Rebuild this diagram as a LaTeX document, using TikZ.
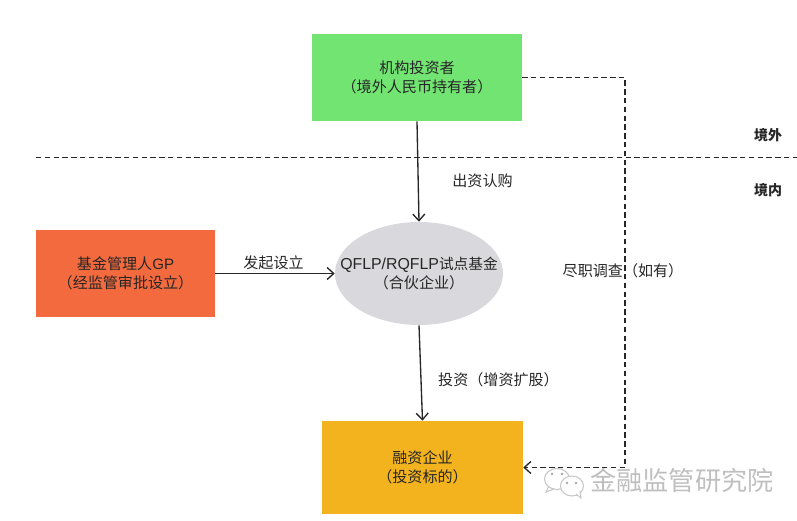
\documentclass[tikz,border=0pt]{standalone}
\usepackage{fontspec}
\setmainfont{Noto Sans CJK SC}
\newfontfamily\latinfont{Liberation Sans}
\usetikzlibrary{shapes.geometric, arrows.meta}
\definecolor{investgreen}{HTML}{72E472}
\definecolor{gporange}{HTML}{F26A3E}
\definecolor{fundgray}{HTML}{D9D8DC}
\definecolor{targetyellow}{HTML}{F2B31F}
\tikzset{
    box/.style={rectangle, inner sep=0pt, align=center, text=black!85, font=\fontsize{11.3}{14}\selectfont, execute at begin node={\rule{0pt}{12pt}}},
    label/.style={inner sep=0pt, text=black!85, font=\fontsize{11.3}{14}\selectfont},
    flow/.style={line width=1pt, black!85, ->, >={Straight Barb[length=5pt,width=9pt]}},
    dashflow/.style={flow, dash pattern=on 4pt off 2.6pt},
    bubble/.style={black!22, line width=0.8pt},
}
\begin{document}
\begin{tikzpicture}[x=0.75pt, y=-0.75pt]
    \useasboundingbox (0,0) rectangle (797,521);

    \node[box, fill=investgreen, minimum width=157.5pt, minimum height=65.25pt] (invest) at (417,77.5) {机构投资者\\（境外人民币持有者）};
    \node[box, fill=gporange, minimum width=134.25pt, minimum height=65.25pt] (gp) at (125.5,273.5) {基金管理人{\latinfont GP}\\（经监管审批设立）};
    \node[ellipse, fill=fundgray, inner sep=0pt, minimum width=126pt, minimum height=77.25pt] (fund) at (419,273.5) {};
    \node[box] (fundtext) at (fund.center) {{\latinfont\fontsize{11.9}{14}\selectfont QFLP/RQFLP}{\fontsize{11}{14}\selectfont 试点基金}\\（合伙企业）};
    \node[box, fill=targetyellow, minimum width=150.75pt, minimum height=69.75pt] (target) at (422.5,467.5) {融资企业\\（投资标的）};

    \coordinate (borderl) at (36,157);
    \coordinate (borderr) at (797,157);
    \coordinate (turnt) at (625,77.5);
    \coordinate (turnb) at (625,467.5);

    \draw[black!85, line width=0.7pt, dash pattern=on 4pt off 2.6pt] (borderl) -- (borderr); %border
    \draw[flow] (invest.south) -- (fund.north);
    \draw[flow] (gp.east) -- (fund.west);
    \draw[flow] (fund.south) -- (target.north);
    \draw[dashflow] (invest.east) -- (turnt) -- (turnb) -- (target.east);

    \node[label] (subscribe) at (482.5,180.5) {出资认购};
    \node[label] (setup) at (273.5,262.5) {发起设立};
    \node[label] (duediligence) at (623,270.5) {尽职调查（如有）};
    \node[label] (capital) at (498.5,379.5) {投资（增资扩股）};
    \node[label, font=\fontsize{10.5}{14}\selectfont\bfseries] (offshore) at (768,135) {境外};
    \node[label, font=\fontsize{10.5}{14}\selectfont\bfseries] (onshore) at (768,190) {境内};

    %watermark
    \node[inner sep=0pt, text=black!25, font=\fontsize{19.6}{20}\selectfont] (mark) at (682,481) {金融监管研究院};
    \draw[bubble] (557,479) ellipse [x radius=12.5, y radius=10.5];
    \draw[bubble] (549,486) -- (546,492) -- (554,489);
    \draw[bubble, fill=white] (572,486) ellipse [x radius=11.5, y radius=10];
    \draw[bubble, fill=white] (576,494) -- (581,498) -- (580,491);
    \fill[black!35] (552,474) circle (1pt);
    \fill[black!35] (562,474) circle (1pt);
    \fill[black!35] (567,483) circle (1pt);
    \fill[black!35] (576,483) circle (1pt);
\end{tikzpicture}
\end{document}
